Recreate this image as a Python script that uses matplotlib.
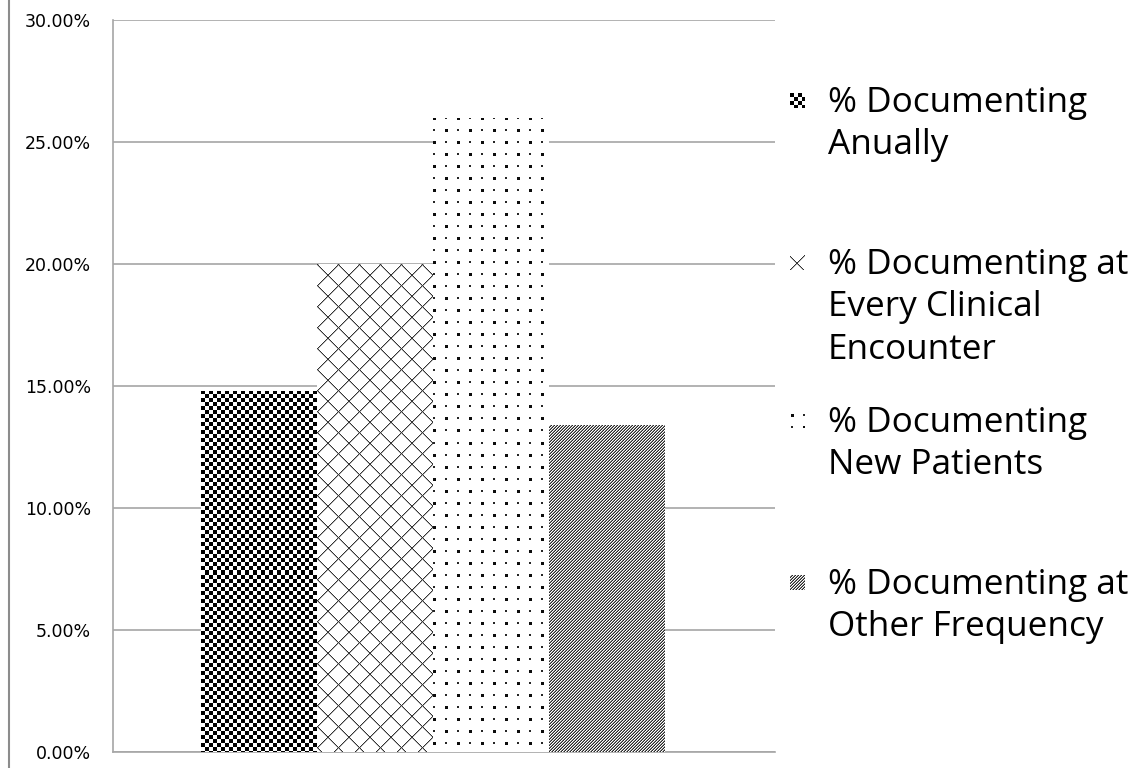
import numpy as np
import matplotlib.pyplot as plt
from matplotlib.lines import Line2D
from matplotlib.ticker import FuncFormatter

# Valores de cada barra (percentual de praticas que documentam)
categorias = ['% Documenting\nAnually',
              '% Documenting at\nEvery Clinical\nEncounter',
              '% Documenting\nNew Patients',
              '% Documenting at\nOther Frequency']
valores = [14.8, 20.0, 26.0, 13.4]
ticks_y = [0, 5, 10, 15, 20, 25, 30]


# Texturas em pixels para preencher as barras
def textura(tipo, h, w, di=0, dj=0):
    i, j = np.mgrid[0:h, 0:w]
    i = i + di
    j = j + dj
    arr = np.ones((h, w))
    if tipo == 'xadrez':
        arr[((i // 4) + (j // 4)) % 2 == 0] = 0.0
    elif tipo == 'cruzado':
        borda = ((i + j) % 21 == 1) | ((i - j) % 21 == 1)
        arr[borda] = 0.7
        arr[(i + j) % 21 == 0] = 0.2
        arr[(i - j) % 21 == 0] = 0.2
    elif tipo == 'pontos':
        alterna = ((i // 12) + (j // 12)) % 2 == 0
        grande = (i % 12 < 3) & (j % 12 < 3) & alterna
        pequeno = (i % 12 < 2) & (j % 12 < 2) & ~alterna
        arr[grande] = 0.05
        arr[pequeno] = 0.15
    elif tipo == 'diagonal':
        arr[(i + j) % 3 != 0] = 0.15
        arr[(i + j) % 3 == 1] = 0.55
    return arr


tipos = ['xadrez', 'cruzado', 'pontos', 'diagonal']
desloc_legenda = [(0, 0), (3, 4), (-1, -1), (0, 0)]

W, H = 1138, 768
fig = plt.figure(figsize=(W / 100, H / 100), dpi=100)
ax = fig.add_axes([113 / W, 16 / H, (775 - 113) / W, (752 - 20) / H])

posicoes = np.arange(len(valores))
xlim = (-1.26, 4.45)
ax.set_xlim(*xlim)
ax.set_ylim(0, 30)

barras = ax.bar(posicoes, valores, width=1.0, color='white', edgecolor='none', zorder=2)

# Preenche cada barra com a textura correspondente
for barra, tipo in zip(barras, tipos):
    x0, y0 = barra.get_x(), barra.get_y()
    x1, y1 = x0 + barra.get_width(), y0 + barra.get_height()
    p0 = ax.transData.transform((x0, y0))
    p1 = ax.transData.transform((x1, y1))
    w = int(round(p1[0] - p0[0]))
    h = int(round(p1[1] - p0[1]))
    img = ax.imshow(textura(tipo, h, w), extent=(x0, x1, y0, y1), origin='upper',
                    cmap='gray', vmin=0, vmax=1, interpolation='nearest',
                    aspect='auto', zorder=3)
    img.set_clip_path(barra)

ax.set_xlim(*xlim)
ax.set_ylim(0, 30)
ax.set_xticks([])
ax.set_yticks(ticks_y)
ax.yaxis.set_major_formatter(FuncFormatter(lambda v, p: f'{v:.2f}%'))
ax.tick_params(axis='y', length=0, pad=16, labelsize=12.5, labelcolor='black')
ax.grid(axis='y', color='#a6a6a6', linewidth=1.2, zorder=1)
ax.set_axisbelow(True)
for lado in ['top', 'right']:
    ax.spines[lado].set_visible(False)
for lado in ['left', 'bottom']:
    ax.spines[lado].set_color('#a6a6a6')
    ax.spines[lado].set_linewidth(1.2)

# Legenda desenhada manualmente ao lado do grafico
legenda_y = [100, 262, 420, 582]
passo = 42.5
for rotulo, tipo, yc, (di, dj) in zip(categorias, tipos, legenda_y, desloc_legenda):
    sw = fig.add_axes([790 / W, 1 - (yc + 8) / H, 15 / W, 15 / H])
    sw.imshow(textura(tipo, 15, 15, di, dj), cmap='gray', vmin=0, vmax=1,
              interpolation='nearest', aspect='auto')
    sw.axis('off')
    for k, linha in enumerate(rotulo.split('\n')):
        fig.text(828 / W, 1 - (yc + k * passo + 12) / H, linha, fontsize=25.3,
                 family='Open Sans', va='baseline', ha='left')

# Borda esquerda da figura
fig.add_artist(Line2D([9 / W, 9 / W], [0, 1], color='#8c8c8c', linewidth=1.5))

fig.savefig('out.png', dpi=100)
plt.close()
